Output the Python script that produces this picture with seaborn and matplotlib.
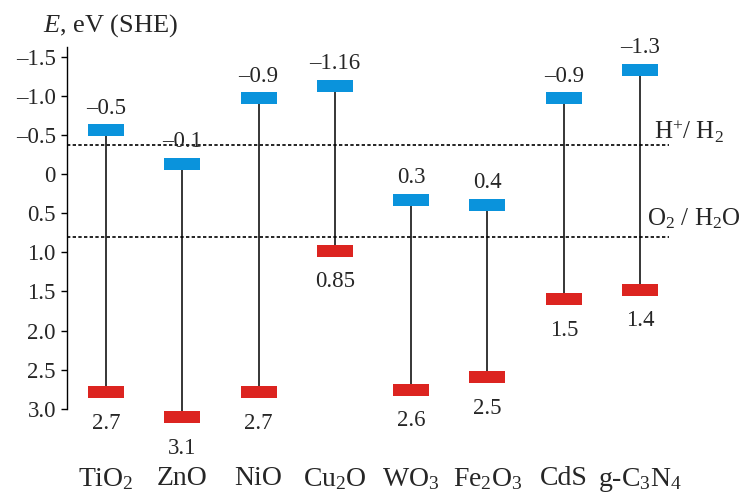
import numpy as np
import pandas as pd
import matplotlib
matplotlib.use("Agg")
import matplotlib.pyplot as plt
import seaborn as sns

# ---------------- data ----------------
materials = [r"TiO$_2$", "ZnO", "NiO", r"Cu$_2$O", r"WO$_3$", r"Fe$_2$O$_3$", "CdS", r"g-C$_3$N$_4$"]
cb_level = [-0.56, -0.13, -0.97, -1.13, 0.33, 0.39, -0.97, -1.34]   # drawn conduction band position
vb_level = [2.79, 3.11, 2.79, 0.98, 2.76, 2.60, 1.60, 1.48]         # drawn valence band position
cb_text = ["\u20130.5", "\u20130.1", "\u20130.9", "\u20131.16", "0.3", "0.4", "\u20130.9", "\u20131.3"]
vb_text = ["2.7", "3.1", "2.7", "0.85", "2.6", "2.5", "1.5", "1.4"]
ref_levels = [-0.37, 0.80]
ref_names = [r"H$^{+}$/ H$_2$", r"O$_2$ / H$_2$O"]
ytick_vals = [-1.5, -1.0, -0.5, 0.0, 0.5, 1.0, 1.5, 2.0, 2.5, 3.0]
ytick_text = ["\u20131.5", "\u20131.0", "\u20130.5", "0", "0.5", "1.0", "1.5", "2.0", "2.5", "3.0"]

# ---------------- style ----------------
sns.set_style("ticks")
plt.rcParams["font.family"] = ["Liberation Serif", "DejaVu Serif"]
plt.rcParams["mathtext.fontset"] = "custom"
plt.rcParams["mathtext.rm"] = "Liberation Serif"
plt.rcParams["mathtext.it"] = "Liberation Serif:italic"
plt.rcParams["mathtext.bf"] = "Liberation Serif:bold"

BLUE = "#0a93dc"
RED = "#dc2420"

df = pd.DataFrame({"material": materials, "cb": cb_level, "vb": vb_level})
xpos = np.arange(len(materials))

fig = plt.figure(figsize=(7.46, 4.99), dpi=100)
ax = fig.add_axes([67 / 746, 1 - 430 / 499, (669 - 67) / 746, (430 - 47) / 499])

# stems
ax.vlines(xpos, df["cb"], df["vb"], color="black", lw=1.1, zorder=1)

# band rectangles
rect = [(-1, -0.343), (1, -0.343), (1, 0.343), (-1, 0.343), (-1, -0.343)]
sns.scatterplot(data=df, x="material", y="cb", marker=rect, s=709, color=BLUE,
                linewidth=0, ax=ax, zorder=3)
sns.scatterplot(data=df, x="material", y="vb", marker=rect, s=709, color=RED,
                linewidth=0, ax=ax, zorder=3)

# reference potentials
for lv in ref_levels:
    ax.axhline(lv, color="black", lw=1.2, ls=(0, (2.0, 1.4)), zorder=0)
ax.text(7.18, ref_levels[0] - 0.08, ref_names[0], fontsize=18, ha="left", va="baseline")
ax.text(7.09, ref_levels[1] - 0.15, ref_names[1], fontsize=18, ha="left", va="baseline")

# value labels
half = 0.0815
for i in range(len(materials)):
    ax.annotate(cb_text[i], (xpos[i], cb_level[i] - half), xytext=(0, 7.5),
                textcoords="offset points", ha="center", va="baseline", fontsize=16.5)
    ax.annotate(vb_text[i], (xpos[i], vb_level[i] + half), xytext=(0, -10),
                textcoords="offset points", ha="center", va="top", fontsize=16.5)

ax.set_xlim(-0.511, 7.379)
ax.set_ylim(3.273, -1.628)

ax.set_yticks(ytick_vals)
ax.set_yticklabels(ytick_text, fontsize=16.5)
ax.tick_params(axis="y", direction="out", length=4, width=1, pad=4, color="black")
ax.set_xticks(xpos)
ax.set_xticklabels(materials, fontsize=20)
ax.tick_params(axis="x", length=0, pad=26)
ax.set_xlabel("")
ax.set_ylabel("")

for s in ["top", "right", "bottom"]:
    ax.spines[s].set_visible(False)
ax.spines["left"].set_bounds(-1.628, 3.0)
ax.spines["left"].set_linewidth(1.0)
ax.spines["left"].set_color("black")

fig.text(43 / 746, 1 - 32 / 499, r"$E$, eV (SHE)", fontsize=19, ha="left", va="baseline")

fig.savefig("out.png", dpi=100)
